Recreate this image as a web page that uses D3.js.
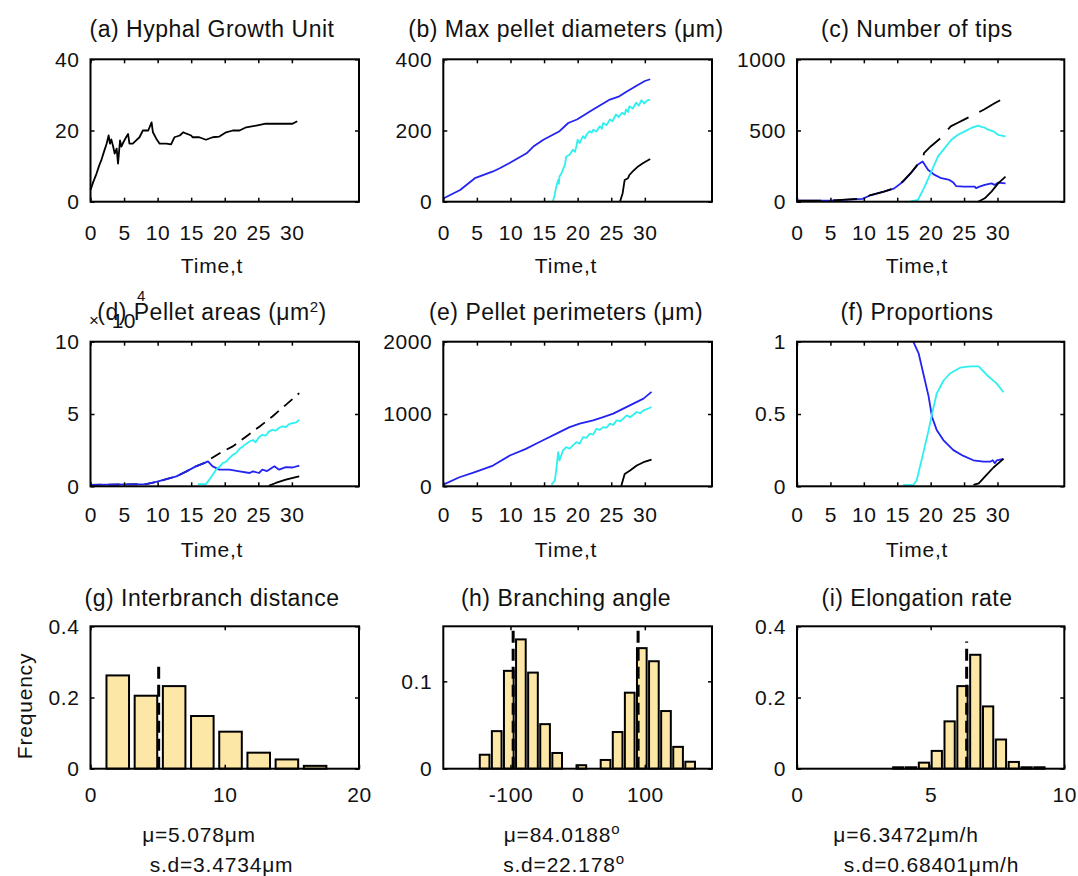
<!DOCTYPE html>
<html>
<head>
<meta charset="utf-8">
<script src="https://cdn.jsdelivr.net/npm/d3@7"></script>
<style>
  html, body { margin: 0; padding: 0; background: #fff; }
  svg { display: block; font-family: "Liberation Sans", Arial, sans-serif; }
</style>
</head>
<body>
<svg id="fig" width="1078" height="876"></svg>
<script>
// ---------- data: time series as [t, value] ----------
const hguSeries = [[0,3.3],[0.4,5.5],[0.9,7.9],[1.3,10.2],[1.6,11.6],[2.0,14],[2.4,16.3],[2.7,18.6],[2.9,16.3],[3.1,17.5],[3.4,15.3],[3.6,13.5],[3.9,14.9],[4.1,10.7],[4.4,17.2],[4.6,15.5],[4.9,16.7],[5.3,18.1],[5.6,19],[5.8,16.3],[6.3,16.3],[6.8,17.2],[7.3,18.1],[7.8,20],[8.6,20],[9.1,22.3],[9.3,19.5],[9.8,17.7],[10.3,16.3],[11.3,16.3],[12,16.1],[12.5,18.1],[13.3,18.6],[13.8,19.5],[14.3,19.1],[15,18.6],[15.2,18.1],[16.2,18.1],[17.2,17.4],[18.2,18.1],[19.2,18.3],[20.2,19.5],[21.2,20],[22.2,20],[23.2,20.9],[24.7,21.4],[26.1,21.9],[30.1,21.9],[30.8,22.6]];

const diamPellet1 = [[0,9],[2.5,33],[4.7,66],[7.4,85],[8.4,94],[9.8,108],[12.4,136],[13.4,155],[14.9,174],[17.3,198],[18.6,221],[19.9,231],[22.3,259],[24.8,287],[26.2,296],[27.2,308],[28.7,325],[30,339],[30.8,344]];
const diamPellet2 = [[16.3,0],[16.6,20],[16.8,42],[17.1,61],[17.2,50],[17.3,71],[17.6,80],[18.1,104],[18.3,127],[18.8,132],[19.3,146],[19.6,140],[19.8,155],[20,174],[20.3,165],[20.8,184],[21.1,178],[21.3,188],[21.8,198],[22.1,194],[22.3,202],[22.8,197],[23.3,212],[23.6,205],[23.8,221],[24.3,215],[24.8,231],[25.2,226],[25.7,245],[26.1,238],[26.6,250],[27,245],[27.2,259],[27.5,252],[27.7,268],[28.2,262],[28.7,278],[29.1,270],[29.5,285],[29.9,276],[30.3,284],[30.8,287]];
const diamPellet3 = [[26.3,0],[26.7,24],[27,61],[27.5,66],[27.7,75],[28.2,85],[29,99],[29.7,108],[30.8,120]];

const tipsPellet1 = [[0,8],[5,8],[9.8,20],[11,45],[13,70],[14.5,92],[15.8,138],[17,198],[18,257],[18.8,282],[19.6,224],[20.6,188],[21.6,165],[22.8,153],[23.4,134],[23.8,110],[25,106],[26.6,106],[26.8,94],[27.2,104],[28.1,118],[29.1,129],[29.6,118],[30.1,134],[31.2,129]];
const tipsPellet2 = [[16.9,0],[18.1,12],[19.1,106],[20.1,212],[21.1,318],[22.1,376],[23.1,435],[24.1,470],[25.1,494],[26.1,518],[27.1,534],[27.6,525],[28.1,520],[28.6,506],[29.4,494],[30.1,470],[31.2,459]];
const tipsPellet3 = [[27.1,0],[28.1,24],[29.1,71],[30.1,129],[31.2,176]];
const tipsTotal = [[0,8],[5,8],[9.8,22],[11,47],[13,71],[14.5,94],[15.8,141],[17,200],[18,259],[18.8,294],[19,341],[20,388],[21.5,447],[23,529],[24,553],[25,576],[26.5,612],[28,647],[29.5,689],[31,729]];

// pellet areas in units of 10^4 um^2
const areaPellet1 = [[0,0.1],[8.3,0.15],[9.8,0.3],[11.3,0.5],[12.8,0.69],[14.3,1.03],[15.7,1.38],[17,1.62],[17.5,1.72],[18.2,1.38],[19.2,1.15],[20.7,1.15],[22.2,1.03],[23.7,0.92],[24.2,1.03],[25.1,0.92],[25.6,1.15],[26.3,1.05],[27.4,1.38],[28.1,1.15],[29.1,1.33],[30.1,1.3],[31.1,1.43]];
const areaPellet2 = [[16,0.15],[17.2,0.15],[17.7,0.46],[18.2,0.8],[18.7,1.15],[19.2,1.35],[19.7,1.6],[20.2,1.7],[20.7,1.95],[21.2,2.18],[21.7,2.3],[22.2,2.6],[22.7,2.76],[23.2,2.95],[23.7,3.1],[24.2,3.2],[24.6,3.05],[25.1,3.4],[25.6,3.56],[26.1,3.5],[26.6,3.8],[27.1,3.9],[27.6,3.85],[28.1,4.05],[28.6,4.14],[29.1,4.1],[29.6,4.3],[30.1,4.37],[30.6,4.4],[31.1,4.6]];
const areaPellet3 = [[26.6,0.05],[27.6,0.23],[29.1,0.46],[30.6,0.64],[31.1,0.69]];
const areaTotal = [[0,0.1],[8.3,0.15],[9.8,0.3],[11.3,0.5],[12.8,0.69],[14.3,1.03],[15.7,1.38],[17,1.62],[17.7,1.84],[19.7,2.41],[21.2,2.76],[23.2,3.45],[25.2,4.14],[27.1,4.83],[29.1,5.63],[31.1,6.44]];

const perimPellet1 = [[0,23],[2.4,125],[4.6,194],[7.4,287],[9.9,426],[12.3,518],[13.8,588],[15.3,657],[17.3,750],[18.8,819],[20.3,866],[22.3,912],[23.8,958],[25.3,1005],[26.8,1074],[28.3,1144],[29.8,1213],[31,1306]];
const perimPellet2 = [[16.1,23],[16.6,79],[16.8,218],[17.1,472],[17.3,356],[17.8,495],[18.3,542],[18.8,520],[19.3,565],[19.8,611],[20.3,590],[20.8,680],[21.3,670],[21.8,727],[22.3,715],[22.8,796],[23.3,780],[23.8,819],[24.3,810],[24.8,866],[25.3,850],[25.8,912],[26.3,900],[26.8,935],[27.3,981],[27.8,955],[28.3,990],[28.8,1028],[29.3,1010],[29.8,1051],[30.4,1070],[31,1097]];
const perimPellet3 = [[26.5,9],[27,171],[27.8,218],[28.8,287],[29.8,333],[31,370]];

const propPellet1 = [[17.4,1],[18.2,0.92],[18.9,0.78],[19.7,0.62],[20.2,0.48],[20.9,0.39],[21.9,0.32],[23.4,0.25],[24.9,0.21],[26.4,0.18],[27.9,0.17],[28.9,0.17],[29.3,0.18],[29.6,0.16],[29.9,0.18],[30.9,0.19]];
const propPellet2 = [[15.9,0.01],[17.4,0.01],[17.9,0.04],[18.9,0.23],[19.7,0.39],[20.2,0.5],[20.9,0.64],[21.9,0.73],[22.9,0.78],[24.4,0.82],[25.9,0.83],[27.2,0.83],[28.4,0.77],[29.9,0.71],[30.9,0.65]];
const propPellet3 = [[26.4,0.01],[27.2,0.02],[28.4,0.08],[29.4,0.13],[30.9,0.19]];

// ---------- data: histograms ----------
const interbranchCenters = [2.03,4.13,6.23,8.33,10.43,12.53,14.63,16.73];
const interbranchFreq    = [0.262,0.205,0.232,0.148,0.104,0.045,0.026,0.008];
const interbranchBinWidth = 2.1;
const interbranchMean = 5.078, interbranchSd = 3.4734;

const angleCenters = [-138.5,-120.5,-102.5,-84.5,-66.5,-48.5,-30.5,-12.5,5.5,23.5,41.5,59.5,77.5,95.5,113.5,131.5,149.5,167.5];
const angleFreq    = [0.016,0.043,0.112,0.148,0.110,0.051,0.018,0,0.004,0,0.010,0.042,0.087,0.138,0.123,0.066,0.025,0.008];
const angleBinWidth = 18;
const angleClusterMeans = [-96, 90];
const angleMean = 84.0188, angleSd = 22.178;

const elongCenters = [3.79,4.27,4.75,5.23,5.71,6.19,6.67,7.15,7.63,8.11,8.59,9.07];
const elongFreq    = [0.004,0.004,0.017,0.05,0.133,0.232,0.32,0.175,0.082,0.019,0.004,0.004];
const elongBinWidth = 0.48;
const elongMean = 6.3472, elongSd = 0.68401;

const timeTicks = [0,5,10,15,20,25,30];

// ---------- layout ----------
const svg = d3.select("#fig");
const colBox = [[90.5,359],[443.3,712],[797,1064.3]];
const rowBox = [[59.3,201.7],[341.7,486.3],[626.3,768.7]];
const colText = [212, 566, 917];
const titleBase = [36.5, 320, 606];
const xPad = [23.5, 20.4, 18];
const FS = 21;
const BLUE = "#2323f2", CYAN = "#2ef0f0", BLACK = "#000", BAR = "#fde7a6";

function textStyle(sel, size, ls){
  return sel.attr("fill","#111").style("font-size",size+"px").style("letter-spacing",(ls==null?0.8:ls)+"px");
}

// text made of plain runs and raised superscript runs
function richText(t, parts, supSize){
  let raised = false;
  parts.forEach(s => {
    if (typeof s === "string") {
      const ts = t.append("tspan").text(s);
      if (raised) { ts.attr("dy", 8); raised = false; }
    } else {
      t.append("tspan").attr("dy",-8).style("font-size",supSize+"px").text(s.sup);
      raised = true;
    }
  });
  return t;
}

function makePanel(ci, ri, xDom, yDom){
  const [x0,x1] = colBox[ci], [y0,y1] = rowBox[ri];
  const x = d3.scaleLinear().domain(xDom).range([x0,x1]);
  const y = d3.scaleLinear().domain(yDom).range([y1,y0]);
  const g = svg.append("g");
  return {g,x,y,x0,x1,y0,y1,ci,ri};
}

function drawAxes(p, xTicks, yTicks){
  const {g,x,y,x0,x1,y0,y1,ri} = p;
  const fmt = d => String(d);
  const style = sel => {
    sel.select(".domain").remove();
    sel.attr("font-family",null).attr("font-size",null);
    sel.selectAll(".tick line").attr("stroke","#000").attr("stroke-width",1.5);
    textStyle(sel.selectAll(".tick text"), FS, 0.6);
  };
  g.append("g").attr("transform",`translate(0,${y1})`)
    .call(d3.axisBottom(x).tickValues(xTicks).tickSize(-4).tickPadding(xPad[ri]).tickFormat(fmt)).call(style);
  g.append("g").attr("transform",`translate(0,${y0})`)
    .call(d3.axisTop(x).tickValues(xTicks).tickSize(-4).tickFormat("")).call(style);
  g.append("g").attr("transform",`translate(${x0},0)`)
    .call(d3.axisLeft(y).tickValues(yTicks).tickSize(-4).tickPadding(11).tickFormat(fmt)).call(style);
  g.append("g").attr("transform",`translate(${x1},0)`)
    .call(d3.axisRight(y).tickValues(yTicks).tickSize(-4).tickFormat("")).call(style);
  g.append("rect").attr("x",x0).attr("y",y0).attr("width",x1-x0).attr("height",y1-y0)
    .attr("fill","none").attr("stroke","#000").attr("stroke-width",2);
}

function title(p, parts){
  const t = svg.append("text").attr("x",colText[p.ci]).attr("y",titleBase[p.ri]).attr("text-anchor","middle");
  textStyle(t, 23, 0.5);
  return richText(t, parts, 15);
}

function timeLabel(p){
  const base = p.ri === 0 ? 273 : 556.5;
  textStyle(svg.append("text").attr("x",colText[p.ci]).attr("y",base).attr("text-anchor","middle"), FS).text("Time,t");
}

function line(p, data, color, dash){
  const gen = d3.line().x(d => p.x(d[0])).y(d => p.y(d[1]));
  p.g.append("path").attr("d",gen(data)).attr("fill","none").attr("stroke",color)
    .attr("stroke-width",1.8).attr("stroke-linejoin","round")
    .attr("stroke-dasharray",dash || null);
}

function timePanel(ci, ri, yDom, yTicks, titleParts, series){
  const p = makePanel(ci, ri, [0,40], yDom);
  series.forEach(s => line(p, s[0], s[1], s[2]));
  drawAxes(p, timeTicks, yTicks);
  title(p, titleParts);
  timeLabel(p);
  return p;
}

// ---------- time-course panels ----------
timePanel(0,0,[0,40],[0,20,40],["(a) Hyphal Growth Unit"],[[hguSeries,BLACK]]);
timePanel(1,0,[0,400],[0,200,400],["(b) Max pellet diameters (μm)"],
  [[diamPellet1,BLUE],[diamPellet2,CYAN],[diamPellet3,BLACK]]);
timePanel(2,0,[0,1000],[0,500,1000],["(c) Number of tips"],
  [[tipsPellet1,BLUE],[tipsPellet2,CYAN],[tipsPellet3,BLACK],[tipsTotal,BLACK,"24,12"]]);
timePanel(0,1,[0,10],[0,5,10],["(d) Pellet areas (μm",{sup:"2"},")"],
  [[areaTotal,BLACK,"11,7"],[areaPellet1,BLUE],[areaPellet2,CYAN],[areaPellet3,BLACK]]);
timePanel(1,1,[0,2000],[0,1000,2000],["(e) Pellet perimeters (μm)"],
  [[perimPellet1,BLUE],[perimPellet2,CYAN],[perimPellet3,BLACK]]);
timePanel(2,1,[0,1],[0,0.5,1],["(f) Proportions"],
  [[propPellet1,BLUE],[propPellet2,CYAN],[propPellet3,BLACK]]);

// exponent label of the area axis (x10^4)
textStyle(svg.append("text").attr("x",89).attr("y",326), 17, 0).text("×");
textStyle(svg.append("text").attr("x",136).attr("y",328).attr("text-anchor","end"), FS, 0.5).text("10");
textStyle(svg.append("text").attr("x",137).attr("y",301), 15, 0).text("4");

// ---------- histogram panels ----------
function histPanel(ci, xDom, yDom, xTicks, yTicks, centers, freq, binW, meanLines, meanTop, titleText){
  const p = makePanel(ci, 2, xDom, yDom);
  const w = binW * 0.8;
  const bars = centers.map((c,i) => ({c, v: freq[i]})).filter(d => d.v > 0);
  p.g.selectAll("rect.bar").data(bars).join("rect").attr("class","bar")
    .attr("x", d => p.x(d.c - w/2)).attr("width", d => p.x(d.c + w/2) - p.x(d.c - w/2))
    .attr("y", d => p.y(d.v)).attr("height", d => p.y(0) - p.y(d.v))
    .attr("fill", BAR).attr("stroke","#000").attr("stroke-width",2);
  meanLines.forEach(m => {
    p.g.append("line").attr("x1",p.x(m)).attr("x2",p.x(m))
      .attr("y1",p.y(0)).attr("y2",p.y(Math.min(meanTop, yDom[1])))
      .attr("stroke","#000").attr("stroke-width",3).attr("stroke-dasharray","12,6");
  });
  drawAxes(p, xTicks, yTicks);
  title(p, [titleText]);
  return p;
}

histPanel(0,[0,20],[0,0.4],[0,10,20],[0,0.2,0.4],interbranchCenters,interbranchFreq,interbranchBinWidth,
  [interbranchMean], 0.30, "(g) Interbranch distance");
histPanel(1,[-200,200],[0,0.163],[-100,0,100],[0,0.1],angleCenters,angleFreq,angleBinWidth,
  angleClusterMeans, 1, "(h) Branching angle");
histPanel(2,[0,10],[0,0.4],[0,5,10],[0,0.2,0.4],elongCenters,elongFreq,elongBinWidth,
  [elongMean], 0.357, "(i) Elongation rate");

// y label of the first histogram
textStyle(svg.append("text").attr("transform","translate(32,706) rotate(-90)").attr("text-anchor","middle"), FS).text("Frequency");

// summary statistics under each histogram
function stat(x, y, parts){
  const t = textStyle(svg.append("text").attr("x",x).attr("y",y).attr("text-anchor","middle"), FS);
  richText(t, parts, 15);
}
stat(199, 842, [`μ=${interbranchMean}μm`]);
stat(221.5, 872, [`s.d=${interbranchSd}μm`]);
stat(562, 842, [`μ=${angleMean}`, {sup:"o"}]);
stat(564, 872, [`s.d=${angleSd}`, {sup:"o"}]);
stat(906, 842, [`μ=${elongMean}μm/h`]);
stat(931.5, 872, [`s.d=${elongSd}μm/h`]);
</script>
</body>
</html>
